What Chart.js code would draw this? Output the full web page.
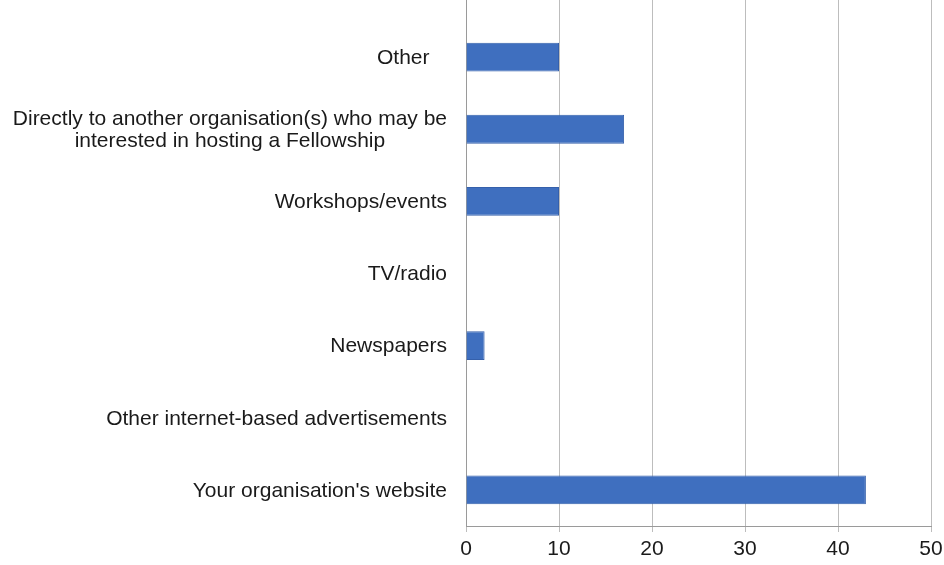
<!DOCTYPE html>
<html>
<head>
<meta charset="utf-8">
<script src="https://cdn.jsdelivr.net/npm/chart.js@4/dist/chart.umd.min.js"></script>
<style>
html,body{margin:0;padding:0;background:#fff;}
#wrap{width:944px;height:565px;position:relative;}
</style>
</head>
<body>
<div id="wrap"><canvas id="c" width="944" height="565"></canvas></div>
<script>
const categories = [
  "Other   ",
  ["Directly to another organisation(s) who may be", "interested in hosting a Fellowship"],
  "Workshops/events",
  "TV/radio",
  "Newspapers",
  "Other internet-based advertisements",
  "Your organisation's website"
];
const values = [10, 17, 10, 0, 2, 0, 43];
const xTicks = [0, 10, 20, 30, 40, 50];

const FONT = "'Liberation Sans', Arial, sans-serif";
const FONT_SIZE = 21;
const TEXT_COLOR = "#1a1a1a";
const GRID_COLOR = "#bdbdbd";

const labelPlugin = {
  id: 'catLabels',
  afterDraw(chart) {
    const ctx = chart.ctx;
    const ys = chart.scales.y;
    const right = chart.chartArea.left - 19;
    ctx.save();
    ctx.font = FONT_SIZE + "px " + FONT;
    ctx.fillStyle = TEXT_COLOR;
    ctx.textBaseline = 'middle';
    categories.forEach((lab, i) => {
      const lines = Array.isArray(lab) ? lab : [lab];
      const maxW = Math.max(...lines.map(l => ctx.measureText(l).width));
      const cy = ys.getPixelForValue(i);
      const lh = 22;
      lines.forEach((l, j) => {
        ctx.textAlign = 'center';
        ctx.fillText(l, right - maxW / 2, cy + 1 + (j - (lines.length - 1) / 2) * lh);
      });
    });
    ctx.restore();
  },
  beforeDatasetsDraw(chart) {
    // extend vertical gridlines and the left axis line up to the top edge
    const ctx = chart.ctx;
    const xs = chart.scales.x;
    ctx.save();
    ctx.lineWidth = 1;
    xs.ticks.forEach(t => {
      const px = xs.getPixelForValue(t.value);
      const x = Math.round(px - 0.5) + 0.5;
      ctx.strokeStyle = t.value === 0 ? '#9a9a9a' : GRID_COLOR;
      ctx.beginPath();
      ctx.moveTo(x, 0);
      ctx.lineTo(x, chart.chartArea.top + 1);
      ctx.stroke();
    });
    ctx.restore();
  }
};

new Chart(document.getElementById('c'), {
  type: 'bar',
  data: {
    labels: categories,
    datasets: [{
      data: values,
      backgroundColor: '#3f6fbf',
      borderColor: '#3560ab',
      borderWidth: 1,
      barPercentage: 0.8,
      categoryPercentage: 0.5
    }]
  },
  options: {
    indexAxis: 'y',
    responsive: false,
    animation: false,
    devicePixelRatio: 1,
    layout: { padding: { top: 21, right: 13, left: 0, bottom: 0 } },
    plugins: { legend: { display: false }, tooltip: { enabled: false } },
    scales: {
      x: {
        min: 0, max: 50,
        afterBuildTicks: s => { s.ticks = xTicks.map(v => ({ value: v })); },
        afterFit: s => { s.height = 39; s.paddingRight = 0; s.paddingLeft = 0; },
        grid: { color: GRID_COLOR, lineWidth: 1, tickLength: 6, drawTicks: true },
        border: { display: true, color: '#9a9a9a' },
        ticks: { color: TEXT_COLOR, font: { family: FONT, size: FONT_SIZE }, padding: 5, maxRotation: 0 }
      },
      y: {
        afterFit: s => { s.width = 466; },
        grid: { display: false },
        border: { display: true, color: '#9a9a9a' },
        ticks: { display: false }
      }
    }
  },
  plugins: [labelPlugin]
});
</script>
</body>
</html>
